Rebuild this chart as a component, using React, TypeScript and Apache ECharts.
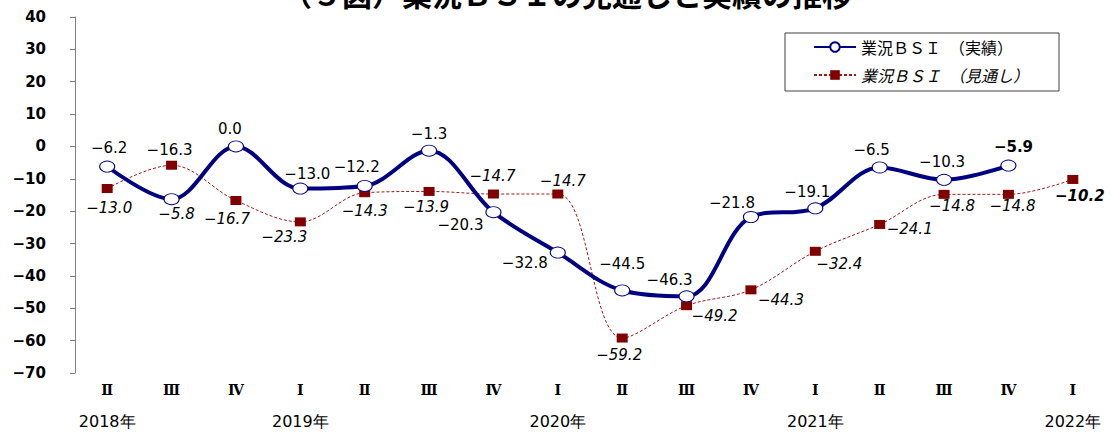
import React, { useEffect, useRef } from "react";
import * as echarts from "echarts";

const quarters = ["Ⅱ", "Ⅲ", "Ⅳ", "Ⅰ", "Ⅱ", "Ⅲ", "Ⅳ", "Ⅰ", "Ⅱ", "Ⅲ", "Ⅳ", "Ⅰ", "Ⅱ", "Ⅲ", "Ⅳ", "Ⅰ"];
const years = ["2018年", "", "", "2019年", "", "", "", "2020年", "", "", "", "2021年", "", "", "", "2022年"];
const actual: (number | null)[] = [-6.2, -16.3, 0.0, -13.0, -12.2, -1.3, -20.3, -32.8, -44.5, -46.3, -21.8, -19.1, -6.5, -10.3, -5.9, null];
const forecast: number[] = [-13.0, -5.8, -16.7, -23.3, -14.3, -13.9, -14.7, -14.7, -59.2, -49.2, -44.3, -32.4, -24.1, -14.8, -14.8, -10.2];

const actualName = "業況ＢＳＩ　（実績）";
const forecastName = "業況ＢＳＩ　（見通し）";
const title = "（５図）業況ＢＳＩの見通しと実績の推移";

// label offsets (style only)
const actualLabelOffsets = [[2, -19], [-2, -49], [-6, -17], [7, -15], [-8, -19], [0, -17], [-33, 13], [-33, 10], [0, -26], [-17, -16], [-19, -14], [-8, -16], [-8, -17], [-2, -18], [5, -19], [0, 0]];
const forecastLabelOffsets = [[2, 19], [5, 49], [-9, 18], [-16, 15], [0, 18], [-3, 16], [-1, -18], [5, -13], [-3, 17], [28, 10], [30, 10], [24, 13], [30, 5], [8, 12], [4, 12], [7, 17]];

const fmt = (v: number) => v.toFixed(1).replace("-", "−");

export default function App() {
  const ref = useRef<HTMLDivElement>(null);
  useEffect(() => {
    const chart = echarts.init(ref.current!, null, { renderer: "svg" });
    const labelFont = "'DejaVu Sans', sans-serif";
    const actualData = actual.map((v, i) =>
      v === null
        ? null
        : {
            value: v,
            label: {
              offset: actualLabelOffsets[i],
              fontWeight: i === 14 ? "bold" : "normal",
            },
          }
    );
    const forecastData = forecast.map((v, i) => ({
      value: v,
      label: {
        offset: forecastLabelOffsets[i],
        fontWeight: i === 15 ? "bold" : "normal",
      },
    }));
    chart.setOption({
      animation: false,
      backgroundColor: "#fff",
      graphic: [
        {
          type: "text",
          x: 567,
          y: -7,
          style: {
            text: title,
            fontSize: 30,
            fontWeight: "bold",
            fontFamily: "'Noto Sans CJK JP', sans-serif",
            fill: "#000",
            textAlign: "center",
            textVerticalAlign: "middle",
          },
        },
      ],
      legend: {
        orient: "vertical",
        left: 785,
        top: 33,
        padding: [6, 30, 8, 28],
        borderColor: "#404040",
        borderWidth: 1,
        itemWidth: 42,
        itemHeight: 12,
        itemGap: 12,
        textStyle: {
          fontSize: 16,
          fontFamily: "'Noto Sans CJK JP', sans-serif",
          color: "#000",
        },
        data: [
          { name: actualName },
          { name: forecastName, textStyle: { fontStyle: "italic" } },
        ],
      },
      grid: { left: 75, right: 11, top: 17, bottom: 59 },
      xAxis: {
        type: "category",
        data: quarters,
        boundaryGap: true,
        axisLine: { show: false },
        axisTick: { show: false },
        axisLabel: {
          margin: 8,
          interval: 0,
          formatter: (val: string, idx: number) => `{q|${val}}\n{y|${years[idx] || " "}}`,
          rich: {
            q: {
              fontSize: 14,
              fontWeight: "bold",
              fontFamily: "'DejaVu Serif', serif",
              lineHeight: 18,
              color: "#000",
            },
            y: {
              fontSize: 16,
              fontFamily: "'DejaVu Sans', sans-serif",
              lineHeight: 44,
              color: "#000",
            },
          },
        },
      },
      yAxis: {
        type: "value",
        min: -70,
        max: 40,
        interval: 10,
        splitLine: { show: false },
        axisLine: { show: true, lineStyle: { color: "#808080", width: 1 } },
        axisTick: { show: true, inside: false, length: 5, lineStyle: { color: "#808080" } },
        axisLabel: {
          margin: 29,
          fontSize: 15,
          fontWeight: "bold",
          fontFamily: labelFont,
          color: "#000",
          formatter: (v: number) => String(v).replace("-", "−"),
        },
      },
      series: [
        {
          name: forecastName,
          type: "line",
          smooth: 0.35,
          data: forecastData,
          symbol: "rect",
          symbolSize: [11, 9],
          itemStyle: { color: "#800000" },
          lineStyle: { color: "#a01818", width: 1, type: [3, 2] },
          label: {
            show: true,
            position: "inside",
            fontSize: 15,
            fontStyle: "italic",
            fontFamily: labelFont,
            color: "#000",
            formatter: (p: any) => fmt(p.value),
          },
          z: 2,
        },
        {
          name: actualName,
          type: "line",
          smooth: 0.35,
          data: actualData,
          symbol: "circle",
          symbolSize: [15, 11],
          itemStyle: { color: "#fff", borderColor: "#000080", borderWidth: 1 },
          lineStyle: { color: "#000080", width: 4 },
          label: {
            show: true,
            position: "inside",
            fontSize: 15,
            fontFamily: labelFont,
            color: "#000",
            formatter: (p: any) => fmt(p.value),
          },
          z: 3,
        },
      ],
    });
    return () => chart.dispose();
  }, []);
  return (
    <div
      ref={ref}
      style={{ position: "absolute", left: 0, top: 0, width: 1116, height: 432 }}
    />
  );
}
